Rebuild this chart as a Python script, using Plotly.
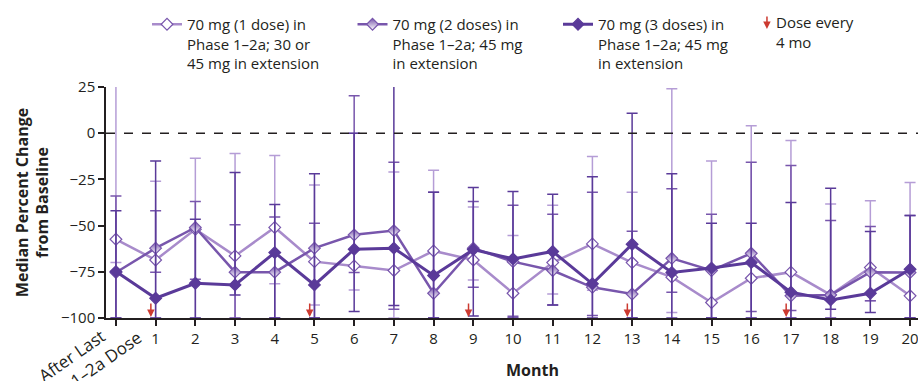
import plotly.graph_objects as go

# ---------------- data ----------------
months = list(range(0, 21))
tick_labels = [""] + [str(m) for m in range(1, 21)]
first_tick_label = "After Last<br>Phase 1–2a Dose"
dose_months = [1, 5, 9, 13, 17]

s1_name = "70 mg (1 dose) in<br>Phase 1–2a; 30 or<br>45 mg in extension"
s1_med = [-57.4, -68.6, -52.0, -66.4, -51.0, -69.5, -71.8, -74.3, -63.7, -68.6, -86.6,
          -70.0, -59.9, -70.0, -77.9, -91.6, -78.5, -75.2, -87.5, -72.7, -88.0]
s1_hi = [30, -26, -13.5, -11, -12, -28, 0, -21, -20, -40, -55.4,
         -39, -12.6, -32, 24, -15, 4, -4, -38.3, -36.5, -26.7]
s1_lo = [-70, -100, -100, -100, -81.5, -93, -84.8, -100, -100, -79.4, -100,
         -87, -85, -100, -97, -100, -100, -100, -100, -90.7, -100]

s2_name = "70 mg (2 doses) in<br>Phase 1–2a; 45 mg<br>in extension"
s2_med = [-75.4, -62.2, -51.0, -75.2, -75.2, -62.2, -55.0, -52.7, -86.6, -62.2, -69.5,
          -74.3, -83.4, -87.0, -67.7, -74.3, -65.0, -88.0, -87.5, -75.2, -75.4]
s2_hi = [-34, -42, -37, -49.6, -45.3, -48.7, 20.3, -15.7, -32, -37, -39,
         -43.8, -32, -53, -30, -43.8, -15.7, -17.5, -47.3, -50.5, -44.6]
s2_lo = [-100, -75.2, -79, -100, -100, -100, -75.4, -95.3, -100, -83.4, -99,
         -93, -98.6, -100, -86, -100, -96.5, -96, -100, -90.7, -100]

s3_name = "70 mg (3 doses) in<br>Phase 1–2a; 45 mg<br>in extension"
s3_med = [-74.9, -89.3, -81.2, -82.1, -64.6, -82.1, -62.8, -62.2, -77.0, -63.0, -68.0,
          -64.0, -81.5, -60.1, -75.4, -73.0, -70.0, -86.0, -90.2, -86.6, -73.6]
s3_hi = [-42, -15, -46.5, -21.3, -38.6, -22, 0, 30, -32, -29.4, -31.6,
         -33, -23.5, 10.8, -22, -48.7, -48.7, -37.5, -29.8, -53.2, -44.6]
s3_lo = [-100, -100, -100, -87.5, -100, -100, -96.5, -93.3, -100, -98.9, -100,
         -93, -100, -100, -100, -100, -100, -100, -95.3, -97, -100]

# ---------------- style ----------------
FONT = "Open Sans"
TXT = "#231f20"
C1 = "#a88bcb"
C1_ERR = "#b59dd6"
C2 = "#7856ac"
C3 = "#5a3a99"
ARROW = "#cc3a30"
FS = 15


def err(med, hi, lo):
    return ([h - m for h, m in zip(hi, med)], [m - l for m, l in zip(med, lo)])


fig = go.Figure()

series = [
    (s1_name, s1_med, s1_hi, s1_lo, C1, C1_ERR,
     dict(symbol="diamond", size=9, color="white", line=dict(color=C2, width=1.2)), 2.5),
    (s2_name, s2_med, s2_hi, s2_lo, C2, C2,
     dict(symbol="diamond", size=9, color=C2, gradient=dict(type="vertical", color="white"),
          line=dict(color=C2, width=1.2)), 2.5),
    (s3_name, s3_med, s3_hi, s3_lo, C3, C3,
     dict(symbol="diamond", size=9, color=C3, line=dict(color=C3, width=1.2)), 3),
]

for name, med, hi, lo, col, ecol, mk, lw in series:
    up, dn = err(med, hi, lo)
    fig.add_trace(go.Scatter(
        x=months, y=med, name=name, mode="lines+markers",
        line=dict(color=col, width=lw), marker=mk,
        error_y=dict(type="data", symmetric=False, array=up, arrayminus=dn,
                     color=ecol, thickness=1.5, width=5.5),
    ))

# zero reference line
fig.add_hline(y=0, line=dict(color="#231f20", width=1.5, dash="dash"))

# dose arrows
for m in dose_months:
    fig.add_annotation(x=m - 0.12, y=-99.5, xref="x", yref="y", text="",
                       showarrow=True, ax=0, ay=-15, arrowhead=2, arrowsize=1,
                       arrowwidth=1.5, arrowcolor=ARROW)

# legend entry for dose arrows
fig.add_annotation(x=0.814, y=1.251, xref="paper", yref="paper", text="",
                   showarrow=True, ax=0, ay=-14, arrowhead=2, arrowsize=1,
                   arrowwidth=1.5, arrowcolor=ARROW)
fig.add_annotation(x=0.823, y=1.335, xref="paper", yref="paper",
                   text="Dose every<br>4 mo", showarrow=False, xanchor="left",
                   yanchor="top", align="left", font=dict(family=FONT, size=FS, color=TXT))

# first (rotated) tick label
fig.add_annotation(x=0, y=0, xref="x", yref="paper", text=first_tick_label,
                   showarrow=False, textangle=-35, xanchor="right", yanchor="top",
                   xshift=33, yshift=13, align="center",
                   font=dict(family=FONT, size=17, color=TXT))

# x axis title
fig.add_annotation(x=0.525, y=-0.226, xref="paper", yref="paper", text="<b>Month</b>",
                   showarrow=False, xanchor="center", yanchor="middle",
                   font=dict(family=FONT, size=16, color=TXT))

fig.update_layout(
    width=918, height=381,
    margin=dict(l=106, r=0, t=87, b=63),
    paper_bgcolor="white", plot_bgcolor="white",
    font=dict(family=FONT, size=FS, color=TXT),
    showlegend=True,
    legend=dict(orientation="h", x=0.0505, y=1.342, xanchor="left", yanchor="top",
                entrywidth=160.5, entrywidthmode="pixels", valign="top",
                font=dict(family=FONT, size=FS, color=TXT), bgcolor="rgba(0,0,0,0)",
                traceorder="normal", itemwidth=30),
    xaxis=dict(range=[-0.25, 20.2], tickvals=months, ticktext=tick_labels,
               showgrid=False, zeroline=False, showline=True, linecolor="#231f20",
               linewidth=1.5, ticks="outside", ticklen=6, tickwidth=1.5,
               tickcolor="#231f20", ticklabeloverflow="allow",
               tickfont=dict(family=FONT, size=FS, color=TXT)),
    yaxis=dict(range=[-100, 25], tickvals=[-100, -75, -50, -25, 0, 25],
               showgrid=False, zeroline=False, showline=True, linecolor="#231f20",
               linewidth=1.5, ticks="outside", ticklen=6, tickwidth=1.5,
               tickcolor="#231f20", tickfont=dict(family=FONT, size=FS, color=TXT),
               title=dict(text="<b>Median Percent Change<br>from Baseline</b>",
                          font=dict(family=FONT, size=16, color=TXT), standoff=8)),
)

fig.write_html("out.html")
